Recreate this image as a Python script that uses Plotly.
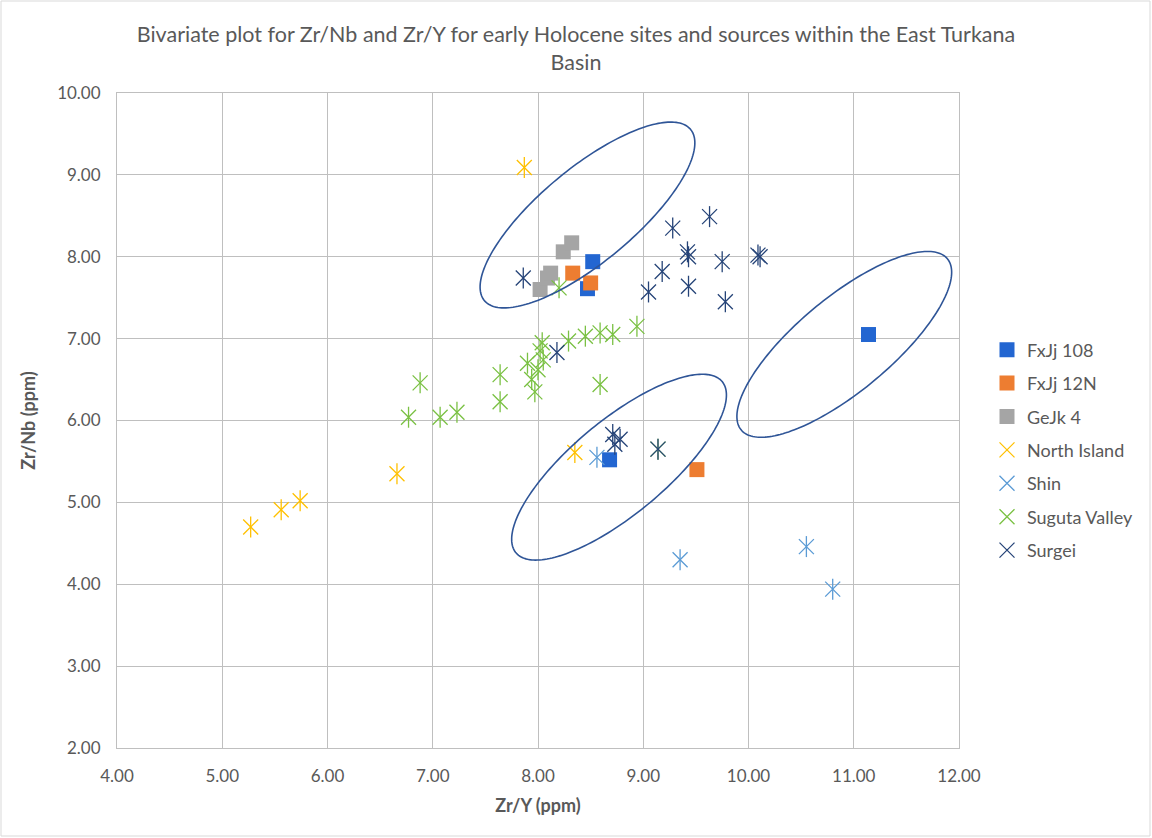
import numpy as np
import plotly.graph_objects as go

# ---------------- data ----------------
fxjj108_x = [8.52, 8.47, 8.68, 11.14]
fxjj108_y = [7.94, 7.61, 5.52, 7.05]

fxjj12n_x = [8.33, 8.50, 9.51]
fxjj12n_y = [7.80, 7.68, 5.40]

gejk4_x = [8.02, 8.09, 8.12, 8.24, 8.32]
gejk4_y = [7.60, 7.74, 7.80, 8.06, 8.17]

north_x = [7.87, 8.35, 6.66, 5.74, 5.56, 5.27]
north_y = [9.09, 5.61, 5.35, 5.02, 4.91, 4.70]

shin_x = [8.56, 9.35, 10.55, 10.80]
shin_y = [5.55, 4.30, 4.46, 3.94]

suguta_x = [8.94, 8.71, 8.59, 8.45, 8.29, 8.04, 8.05, 7.90, 7.94, 7.97,
            7.64, 7.64, 8.59, 6.88, 6.77, 7.07, 7.23, 8.20, 9.14, 8.00, 8.02]
suguta_y = [7.15, 7.05, 7.07, 7.03, 6.97, 6.95, 6.74, 6.70, 6.50, 6.35,
            6.56, 6.23, 6.44, 6.46, 6.04, 6.04, 6.10, 7.62, 5.65, 6.62, 6.85]

surgei_x = [9.63, 9.28, 9.42, 9.43, 9.75, 10.09, 10.11, 9.18, 9.05, 9.43,
            9.78, 7.86, 8.18, 8.71, 8.78, 8.73, 9.14]
surgei_y = [8.49, 8.35, 8.06, 8.00, 7.94, 8.02, 8.00, 7.82, 7.57, 7.64,
            7.45, 7.74, 6.83, 5.83, 5.77, 5.71, 5.65]

x_ticks = [4, 5, 6, 7, 8, 9, 10, 11, 12]
y_ticks = [2, 3, 4, 5, 6, 7, 8, 9, 10]

# ellipse annotations: centre (data units)
ellipse_centres = [(8.47, 8.51), (8.77, 5.43), (10.91, 6.93)]

# ---------------- layout geometry ----------------
W, H = 1152, 838
L, R, T, B = 117, 193, 93, 90
PW, PH = W - L - R, H - T - B
sx = PW / (x_ticks[-1] - x_ticks[0])
sy = PH / (y_ticks[-1] - y_ticks[0])
ELL_A, ELL_B, ELL_TH = 134, 47, np.radians(39.7)

FONT = "Lato, 'Open Sans', sans-serif"
TXT = "#595959"

fig = go.Figure()

def squares(name, xs, ys, color):
    fig.add_trace(go.Scatter(
        x=xs, y=ys, mode="markers", name=name, legendgroup=name,
        marker=dict(symbol="square", size=15, color=color,
                    line=dict(width=0))))

def stars(name, xs, ys, color):
    fig.add_trace(go.Scatter(
        x=xs, y=ys, mode="markers", name=name, legendgroup=name,
        marker=dict(symbol="x-thin-open", size=15, color=color,
                    line=dict(width=1.3, color=color))))
    fig.add_trace(go.Scatter(
        x=xs, y=ys, mode="markers", name=name, legendgroup=name,
        showlegend=False, hoverinfo="skip",
        marker=dict(symbol="line-ns-open", size=15, color=color,
                    line=dict(width=1.3, color=color))))

squares("FxJj 108", fxjj108_x, fxjj108_y, "#2366D1")
squares("FxJj 12N", fxjj12n_x, fxjj12n_y, "#ED7D31")
squares("GeJk 4", gejk4_x, gejk4_y, "#A5A5A5")
stars("North Island", north_x, north_y, "#FFC000")
stars("Shin", shin_x, shin_y, "#5B9BD5")
stars("Suguta Valley", suguta_x, suguta_y, "#7AC143")
stars("Surgei", surgei_x, surgei_y, "#264478")

# ellipses as shapes
t = np.linspace(0, 2 * np.pi, 200)
for cx, cy in ellipse_centres:
    dx = ELL_A * np.cos(t) * np.cos(ELL_TH) - ELL_B * np.sin(t) * np.sin(ELL_TH)
    dy = ELL_A * np.cos(t) * np.sin(ELL_TH) + ELL_B * np.sin(t) * np.cos(ELL_TH)
    ex = cx + dx / sx
    ey = cy + dy / sy
    path = "M " + " L ".join(f"{a:.4f},{b:.4f}" for a, b in zip(ex, ey)) + " Z"
    fig.add_shape(type="path", path=path, xref="x", yref="y",
                  line=dict(color="#2F5597", width=1.6), layer="above")

# chart-area border
def px2paper_x(p):
    return (p - L) / PW

def px2paper_y(p):
    return (H - B - p) / PH

fig.add_shape(type="rect", xref="paper", yref="paper",
              x0=px2paper_x(1), x1=px2paper_x(W - 2),
              y0=px2paper_y(H - 2), y1=px2paper_y(1),
              line=dict(color="#D9D9D9", width=1), layer="below")

axis_common = dict(
    showgrid=True, gridcolor="#BFBFBF", gridwidth=1,
    showline=True, linecolor="#BFBFBF", linewidth=1, mirror=True,
    zeroline=False, ticks="", tickformat=".2f",
    tickfont=dict(family=FONT, size=17, color=TXT),
)

fig.update_layout(
    width=W, height=H,
    margin=dict(l=L, r=R, t=T, b=B),
    paper_bgcolor="white", plot_bgcolor="white",
    font=dict(family=FONT, color=TXT),
    title=dict(
        text="Bivariate plot for Zr/Nb and Zr/Y for early Holocene sites and sources within the East Turkana<br>Basin",
        x=0.5, xanchor="center", y=1 - 42 / H, yanchor="middle",
        font=dict(family=FONT, size=21.5, color=TXT)),
    xaxis=dict(range=[x_ticks[0], x_ticks[-1]], tickvals=x_ticks,
               ticklabelstandoff=13,
               title=dict(text="<b>Zr/Y (ppm)</b>", standoff=13,
                          font=dict(family=FONT, size=18, color=TXT)),
               **axis_common),
    yaxis=dict(range=[y_ticks[0], y_ticks[-1]], tickvals=y_ticks,
               ticklabelstandoff=12,
               title=dict(text="<b>Zr/Nb (ppm)</b>", standoff=16,
                          font=dict(family=FONT, size=18, color=TXT)),
               **axis_common),
    legend=dict(x=px2paper_x(987), xanchor="left", y=px2paper_y(450), yanchor="middle",
                font=dict(family=FONT, size=18, color=TXT),
                traceorder="grouped", tracegroupgap=7,
                bgcolor="rgba(0,0,0,0)"),
    showlegend=True,
)

fig.write_html("out.html")
